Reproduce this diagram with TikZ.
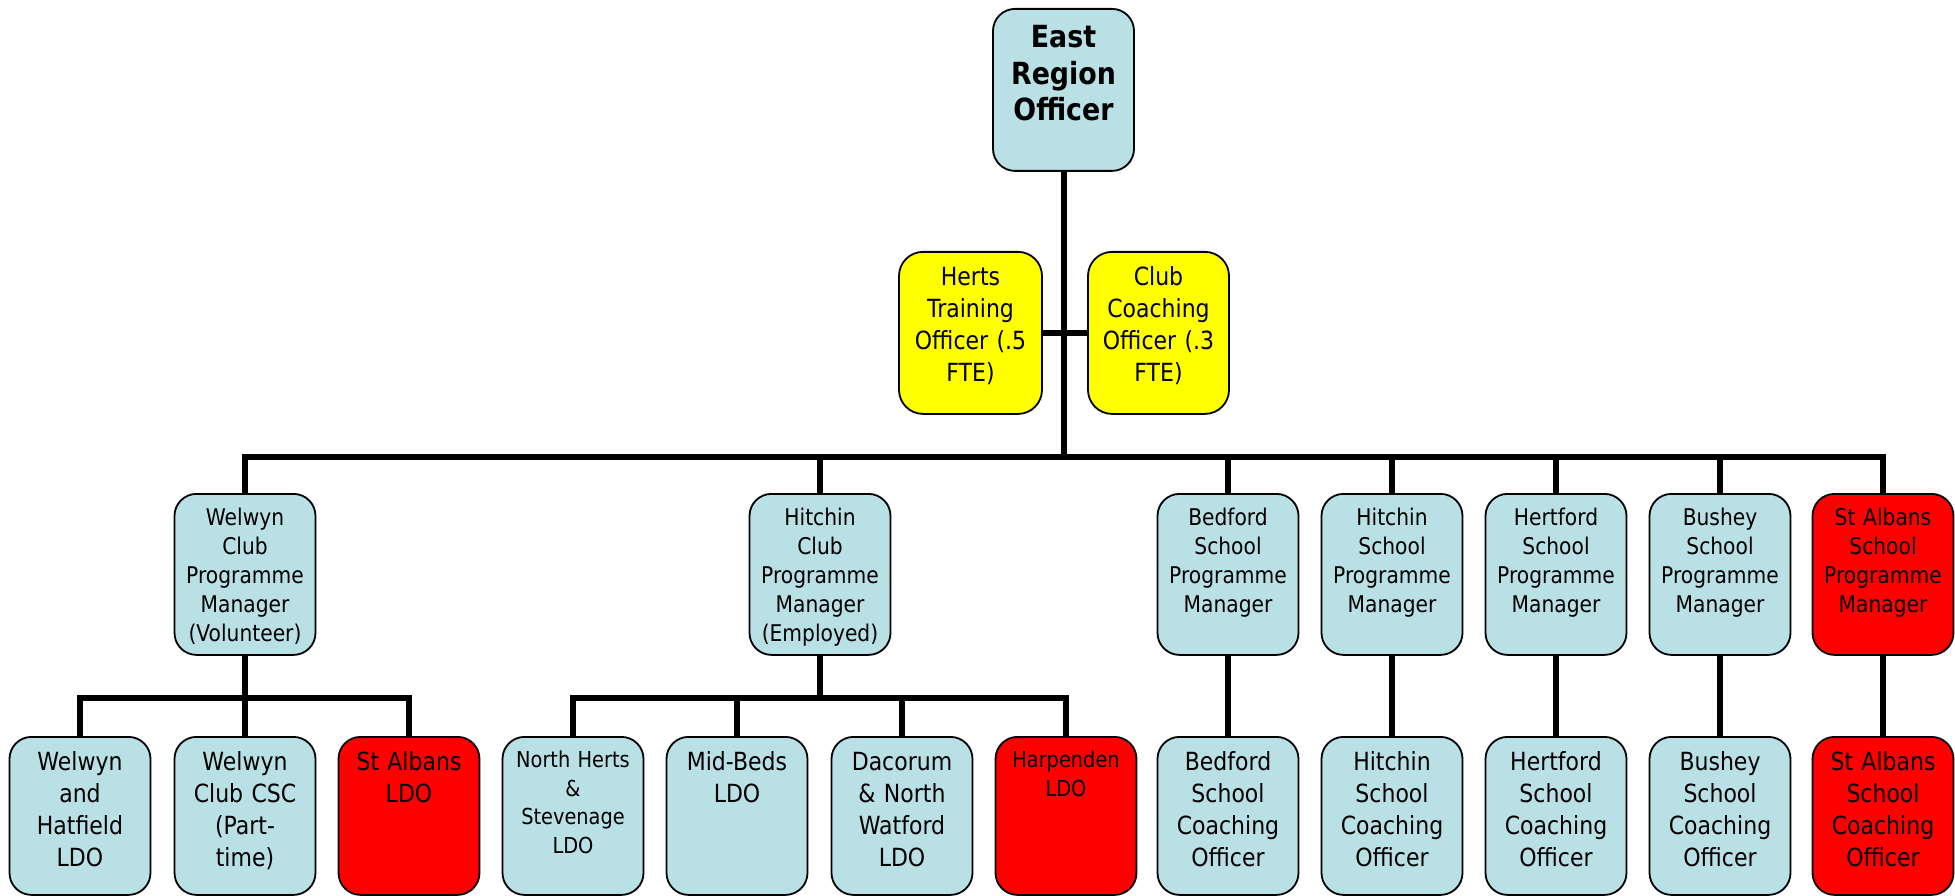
\documentclass[tikz,border=0pt]{standalone}
\usepackage{fontspec}
\setmainfont[FakeStretch=0.88]{DejaVu Sans}
\definecolor{boxblue}{RGB}{185,224,228}
\definecolor{boxyellow}{RGB}{255,255,0}
\definecolor{boxred}{RGB}{255,0,0}
\tikzset{
  orgbox/.style={draw=black, line width=1.8pt, rounded corners=22pt, fill=boxblue,
    anchor=north, inner sep=0pt, minimum width=141pt, text width=141pt, align=center},
  headbox/.style={orgbox, font=\bfseries\fontsize{30.5}{36.5}\selectfont,
    text height=39pt, text depth=123pt},
  sidebox/.style={orgbox, fill=boxyellow, rounded corners=24pt, minimum width=143pt,
    text width=143pt, font=\fontsize{25}{31.7}\selectfont,
    text height=34pt, text depth=128pt},
  midbox/.style={orgbox, font=\fontsize{23}{29}\selectfont,
    text height=32pt, text depth=129pt},
  lowbox/.style={orgbox, font=\fontsize{25}{32}\selectfont,
    text height=34pt, text depth=124pt},
  lowsmall/.style={orgbox, font=\fontsize{22}{28.5}\selectfont,
    text height=31pt, text depth=127pt},
  vacant/.style={fill=boxred},
  link/.style={draw=black, line width=6pt}
}
\begin{document}
\begin{tikzpicture}[x=1pt, y=-1pt]
\useasboundingbox (0,0) rectangle (1955,896);

% head of region and the two support officers
\node[headbox] (head) at (1063.5,8) {East\\Region\\Officer};
\node[sidebox] (herts) at (970.5,251) {Herts\\Training\\Officer (.5\\FTE)};
\node[sidebox, minimum width=141pt, text width=141pt] (club) at (1158.5,251) {Club\\Coaching\\Officer (.3\\FTE)};

% programme managers
\node[midbox] (wcpm) at (245,493) {Welwyn\\Club\\Programme\\Manager\\(Volunteer)};
\node[midbox] (hcpm) at (820,493) {Hitchin\\Club\\Programme\\Manager\\(Employed)};
\node[midbox] (bspm) at (1228,493) {Bedford\\School\\Programme\\Manager};
\node[midbox] (hspm) at (1392,493) {Hitchin\\School\\Programme\\Manager};
\node[midbox] (hfpm) at (1556,493) {Hertford\\School\\Programme\\Manager};
\node[midbox] (bypm) at (1720,493) {Bushey\\School\\Programme\\Manager};
\node[midbox, vacant] (sapm) at (1883,493) {St Albans\\School\\Programme\\Manager};

% local officers and coaching officers
\node[lowbox] (whl) at (80,736) {Welwyn\\and\\Hatfield\\LDO};
\node[lowbox] (wcsc) at (245,736) {Welwyn\\Club CSC\\(Part-\\time)};
\node[lowbox, vacant] (sal) at (409,736) {St Albans\\LDO};
\node[lowsmall] (nhs) at (573,736) {North Herts\\\&\\Stevenage\\LDO};
\node[lowbox] (mbl) at (737,736) {Mid-Beds\\LDO};
\node[lowbox] (dnw) at (902,736) {Dacorum\\\& North\\Watford\\LDO};
\node[lowsmall, vacant] (harp) at (1066,736) {Harpenden\\LDO};
\node[lowbox] (bsco) at (1228,736) {Bedford\\School\\Coaching\\Officer};
\node[lowbox] (hsco) at (1392,736) {Hitchin\\School\\Coaching\\Officer};
\node[lowbox] (hfco) at (1556,736) {Hertford\\School\\Coaching\\Officer};
\node[lowbox] (byco) at (1720,736) {Bushey\\School\\Coaching\\Officer};
\node[lowbox, vacant] (saco) at (1883,736) {St Albans\\School\\Coaching\\Officer};

% connectors
\coordinate (bus) at (1063.5,457);
\coordinate (wbus) at (245,698);
\coordinate (hbus) at (820,698);

\path[link] (head.south) -- (bus);
\path[link] (herts.east) -- (herts.east -| head.south);
\path[link] (club.west) -- (club.west -| head.south);
\foreach \n in {wcpm,hcpm,bspm,hspm,hfpm,bypm,sapm}
  \path[link] (bus) -| (\n.north);

\path[link] (wcpm.south) -- (wbus);
\foreach \n in {whl,wcsc,sal}
  \path[link] (wbus) -| (\n.north);

\path[link] (hcpm.south) -- (hbus);
\foreach \n in {nhs,mbl,dnw,harp}
  \path[link] (hbus) -| (\n.north);

\path[link] (bspm.south) -- (bsco.north);
\path[link] (hspm.south) -- (hsco.north);
\path[link] (hfpm.south) -- (hfco.north);
\path[link] (bypm.south) -- (byco.north);
\path[link] (sapm.south) -- (saco.north);
\end{tikzpicture}
\end{document}
